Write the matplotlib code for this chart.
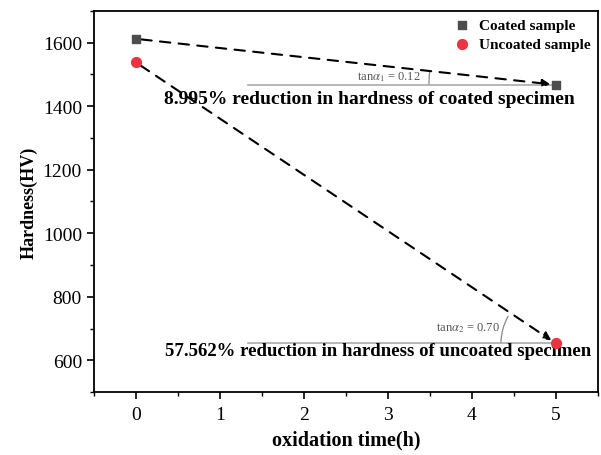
import matplotlib
matplotlib.use("Agg")
import matplotlib.pyplot as plt
import numpy as np
from matplotlib.patches import Arc
from matplotlib.transforms import ScaledTranslation

plt.rcParams['font.family'] = ['Liberation Serif', 'DejaVu Serif']
plt.rcParams['mathtext.fontset'] = 'stix'

time_h = [0, 5]
coated = [1612, 1467]
uncoated = [1538, 653]
coated_label = "Coated sample"
uncoated_label = "Uncoated sample"
coated_text = "8.995% reduction in hardness of coated specimen"
uncoated_text = "57.562% reduction in hardness of uncoated specimen"
tan1_text = r"tan$\alpha_1$ = 0.12"
tan2_text = r"tan$\alpha_2$ = 0.70"
xticks = [0, 1, 2, 3, 4, 5]
yticks = [600, 800, 1000, 1200, 1400, 1600]

fig = plt.figure(figsize=(6.01, 4.56), dpi=100)
ax = fig.add_axes([0.156, 0.138, 0.839, 0.836])
ax.set_xlim(-0.5, 5.5)
ax.set_ylim(500, 1700)

ax.scatter(time_h[0], coated[0], marker='s', s=28, color='#4d4d4d', zorder=5, label=coated_label)
ax.scatter(time_h[1], coated[1], marker='s', s=28, color='#4d4d4d', zorder=5)
ax.scatter(time_h[0], uncoated[0], marker='o', s=50, color='#ec3340', zorder=5, label=uncoated_label)
ax.scatter(time_h[1], uncoated[1], marker='o', s=50, color='#ec3340', zorder=5)

for ys in (coated, uncoated):
    ax.annotate('', xy=(time_h[1], ys[1]), xytext=(time_h[0], ys[0]),
                arrowprops=dict(arrowstyle='-|>', linestyle=(0, (5, 4)), lw=1.5,
                                color='black', shrinkA=4, shrinkB=4, mutation_scale=12),
                zorder=4)

# horizontal reference lines
ax.plot([1.34, time_h[1]], [coated[1], coated[1]], color='#aaaaaa', lw=1.2, zorder=3)
ax.plot([1.34, time_h[1]], [uncoated[1], uncoated[1]], color='#aaaaaa', lw=1.2, zorder=3)

def angle_arc(x, y, r_in, t1, t2):
    tr = fig.dpi_scale_trans + ScaledTranslation(x, y, ax.transData)
    a = Arc((0, 0), 2 * r_in, 2 * r_in, theta1=t1, theta2=t2, transform=tr,
            color='#888888', lw=0.9)
    ax.add_patch(a)

angle_arc(time_h[1], coated[1], 1.27, 174.0, 180)
angle_arc(time_h[1], uncoated[1], 0.55, 150, 180)

ax.text(2.63, coated[1] + 28, tan1_text, fontsize=9, color='#555555', ha='left', va='center')
ax.text(3.57, uncoated[1] + 50, tan2_text, fontsize=9, color='#555555', ha='left', va='center')

ax.text(0.33, coated[1] - 42, coated_text, fontsize=14, fontweight='bold', ha='left', va='center')
ax.text(0.35, uncoated[1] - 22, uncoated_text, fontsize=13.5, fontweight='bold', ha='left', va='center')

leg = ax.legend(loc='upper right', frameon=False, prop={'weight': 'bold', 'size': 11},
                handletextpad=0.5, borderaxespad=0.1, labelspacing=0.35, handlelength=1.2)

ax.set_xticks(xticks)
ax.set_yticks(yticks)
ax.set_xticks(np.arange(-0.5, 5.51, 0.5), minor=True)
ax.set_yticks(np.arange(500, 1701, 100), minor=True)
ax.tick_params(axis='both', which='major', direction='out', length=5, width=1.2, labelsize=14)
ax.tick_params(axis='x', which='major', pad=5)
ax.tick_params(axis='both', which='minor', direction='out', length=3, width=1.0)
for sp in ax.spines.values():
    sp.set_linewidth(1.3)

ax.set_xlabel('oxidation time(h)', fontsize=14.5, fontweight='bold', labelpad=5)
ax.set_ylabel('Hardness(HV)', fontsize=13, fontweight='bold', labelpad=4)

fig.savefig('out.png', dpi=100)
